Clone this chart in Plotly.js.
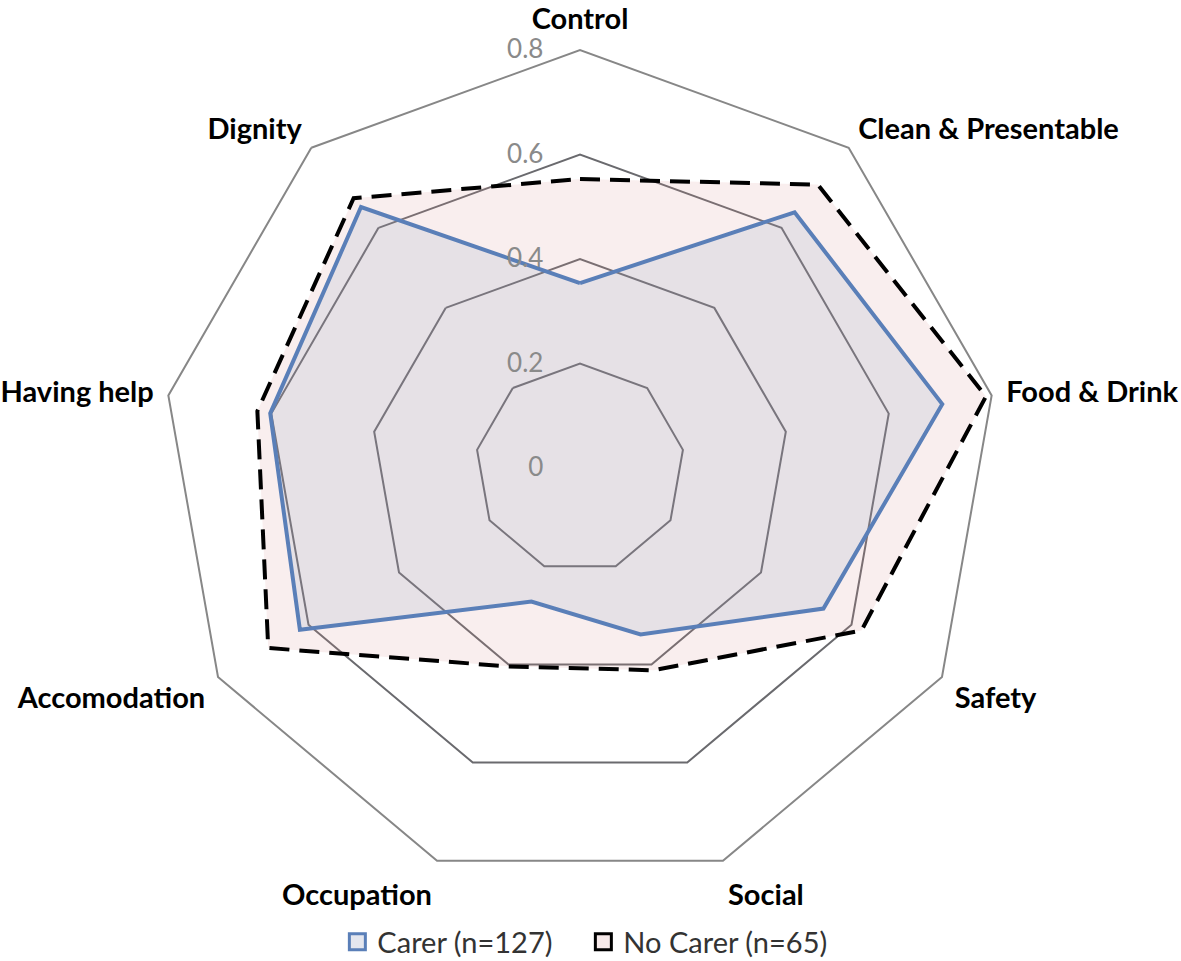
<!DOCTYPE html>
<html>
<head>
<meta charset="utf-8">
<script src="https://cdn.plot.ly/plotly-3.0.1.min.js"></script>
<style>html,body{margin:0;padding:0;background:#fff;}#chart{width:1181px;height:961px;}</style>
</head>
<body>
<div id="chart"></div>
<script>
const categories = ['Control','Clean & Presentable','Food & Drink','Safety','Social','Occupation','Accomodation','Having help','Dignity'];
const carerValues = [0.354, 0.639, 0.704, 0.538, 0.339, 0.272, 0.619, 0.602, 0.652];
const noCarerValues = [0.553, 0.708, 0.789, 0.622, 0.412, 0.404, 0.689, 0.627, 0.674];
const radialTicks = [0, 0.2, 0.4, 0.6, 0.8];
const radialTickText = ['0', '0.2', '0.4', '0.6', '0.8'];
const seriesNames = ['Carer (n=127)', 'No Carer (n=65)'];

function closed(a){ return a.concat([a[0]]); }

const traces = [
  {
    type: 'scatterpolar',
    name: seriesNames[1],
    r: closed(noCarerValues),
    theta: closed(categories),
    mode: 'lines',
    fill: 'toself',
    fillcolor: 'rgba(215,142,142,0.15)',
    line: {color: '#000000', width: 4, dash: '20px,10px'},
    showlegend: false,
    hoverinfo: 'skip'
  },
  {
    type: 'scatterpolar',
    name: seriesNames[0],
    r: closed(carerValues),
    theta: closed(categories),
    mode: 'lines',
    fill: 'toself',
    fillcolor: 'rgba(122,151,185,0.15)',
    line: {color: '#5a7fb8', width: 4},
    showlegend: false,
    hoverinfo: 'skip'
  },
  {
    type: 'scatterpolar',
    name: seriesNames[0],
    r: [null], theta: [null],
    mode: 'markers',
    marker: {symbol: 'square', size: 18, color: '#e4e6ee', line: {color: '#5a7fb8', width: 3}},
    legendrank: 1,
    hoverinfo: 'skip'
  },
  {
    type: 'scatterpolar',
    name: seriesNames[1],
    r: [null], theta: [null],
    mode: 'markers',
    marker: {symbol: 'square', size: 18, color: '#f7eaea', line: {color: '#000000', width: 3}},
    legendrank: 2,
    hoverinfo: 'skip'
  }
];

const layout = {
  width: 1181,
  height: 961,
  paper_bgcolor: '#ffffff',
  margin: {l: 100, r: 121, t: 50, b: 75, autoexpand: false},
  font: {family: 'Lato, "Open Sans", sans-serif'},
  showlegend: true,
  legend: {
    orientation: 'h',
    x: 0.5035, xanchor: 'center',
    y: -0.067, yanchor: 'middle',
    font: {size: 29, color: '#333333', family: 'Lato, "Open Sans", sans-serif'},
    itemwidth: 30,
    entrywidth: 201,
    entrywidthmode: 'pixels'
  },
  polar: {
    domain: {x: [0, 1], y: [0, 1]},
    bgcolor: 'rgba(0,0,0,0)',
    gridshape: 'linear',
    radialaxis: {
      range: [0, 0.8],
      angle: 90,
      side: 'counterclockwise',
      tickangle: 90,
      tickmode: 'array',
      tickvals: radialTicks,
      ticktext: radialTickText,
      showline: false,
      ticks: 'outside',
      ticklen: 27,
      tickcolor: 'rgba(0,0,0,0)',
      showgrid: true,
      gridcolor: '#6a6a6e',
      gridwidth: 2,
      tickfont: {size: 26, color: '#8a8a8a', family: 'Lato, "Open Sans", sans-serif'}
    },
    angularaxis: {
      type: 'category',
      categoryarray: categories,
      rotation: 90,
      direction: 'clockwise',
      showgrid: false,
      showline: true,
      linecolor: '#878787',
      linewidth: 2,
      ticks: 'outside',
      ticklen: 8,
      tickcolor: 'rgba(0,0,0,0)',
      tickfont: {size: 29, color: '#000000', family: 'Lato, "Open Sans", sans-serif', weight: 'bold'}
    }
  }
};

Plotly.newPlot('chart', traces, layout, {displayModeBar: false, staticPlot: true});
</script>
</body>
</html>
